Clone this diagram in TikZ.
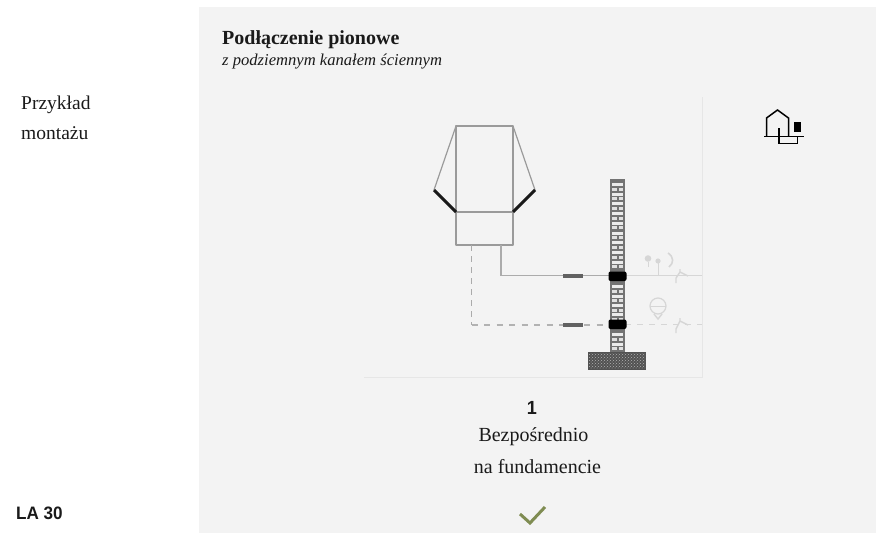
\documentclass[tikz,border=0pt]{standalone}
\usepackage{fontspec}
\setmainfont{Liberation Serif}
\newfontfamily\labelsans{Liberation Sans}
\usetikzlibrary{patterns}
\definecolor{panel}{HTML}{F3F3F3}
\definecolor{rulegray}{HTML}{E6E6E6}
\definecolor{devline}{HTML}{9A9A9A}
\definecolor{pipeline}{HTML}{ABABAB}
\definecolor{faint}{HTML}{D6D6D6}
\definecolor{okgreen}{HTML}{7F8C52}
\definecolor{ink}{HTML}{1A1A1A}
\tikzset{
  txt/.style={inner sep=0pt,anchor=base west,text=ink,font=\fontsize{19.5}{22}\selectfont},
  ctxt/.style={inner sep=0pt,anchor=base,text=ink,font=\fontsize{20}{22}\selectfont},
  boxline/.style={draw=devline,line width=1.5pt},
  pipe/.style={draw=pipeline,line width=1.2pt},
  pipedash/.style={draw=black!30,line width=2pt,dash pattern=on 6pt off 6.5pt},
  pipedashv/.style={draw=pipeline,line width=1.2pt,dash pattern=on 6pt off 5pt},
  faintline/.style={draw=faint,line width=1pt},
  iconline/.style={draw=black,line width=1.5pt},
}
\begin{document}
\begin{tikzpicture}[x=1pt,y=-1pt]
\useasboundingbox (0,0) rectangle (876,533);
\fill[white] (0,0) rectangle (876,533);
\fill[panel] (199,7) rectangle (876,533);
% texts
\node[txt] (tprzy) at (21,109) {Przykład};
\node[txt] (tmont) at (21,139) {montażu};
\node[inner sep=0pt,anchor=base west,text=ink,xscale=.95,font=\labelsans\bfseries\fontsize{18}{20}\selectfont] (tla) at (16,519) {LA 30};
\node[inner sep=0pt,anchor=base west,text=ink,font=\bfseries\fontsize{20}{22}\selectfont] (ttitle) at (222,44) {Podłączenie pionowe};
\node[inner sep=0pt,anchor=base west,text=ink,font=\itshape\fontsize{16.6}{18}\selectfont] (tsub) at (222,65) {z podziemnym kanałem ściennym};
\node[inner sep=0pt,anchor=base,text=ink,xscale=.95,font=\labelsans\bfseries\fontsize{19}{20}\selectfont] (tone) at (532,414) {1};
\node[ctxt] (tb) at (533.5,441) {Bezpośrednio};
\node[ctxt] (tf) at (537.5,473) {na fundamencie};
% check
\draw[okgreen,line width=3pt,line join=miter] (520,514) -- (530,523) -- (545,507);
% frame rules
\draw[rulegray,line width=.8pt] (702,97) -- (702,377) -- (364,377);
% device
\coordinate (devTL) at (456,126);
\coordinate (devTR) at (513,126);
\coordinate (devML) at (456,212);
\coordinate (devMR) at (513,212);
\coordinate (devBL) at (456,245);
\coordinate (devBR) at (513,245);
\coordinate (wingL) at (434,190);
\coordinate (wingR) at (535,190);
\draw[boxline,line join=round] (devTL) -- (devTR) -- (devBR) -- (devBL) -- cycle;
\draw[boxline] (devML) -- (devMR);
\draw[draw=devline,line width=1.2pt] (devTL) -- (wingL);
\draw[draw=devline,line width=1.2pt] (devTR) -- (wingR);
\draw[black!90,line width=3pt] (wingL) -- (devML);
\draw[black!90,line width=3pt] (wingR) -- (devMR);
% pipes
\coordinate (solidA) at (501,245);
\coordinate (solidB) at (501,275.5);
\coordinate (solidC) at (610,275.5);
\coordinate (solidD) at (625,275.5);
\coordinate (solidE) at (702,275.5);
\coordinate (dashA) at (471.5,245);
\coordinate (dashB) at (471.5,324.5);
\coordinate (dashC) at (610,324.5);
\coordinate (dashD) at (625,324.5);
\coordinate (dashE) at (702,324.5);
\draw[pipe] (solidA) -- (solidB) -- (solidC);
\draw[faintline] (solidD) -- (solidE);
\draw[pipedashv] (dashA) -- (dashB);
\draw[pipedash] (dashB) -- (dashC);
\draw[faintline,dash pattern=on 6pt off 6pt,line width=1.6pt] (dashD) -- (dashE);
% sleeves
\fill[black!62] (563,273.5) rectangle (583,277.5);
\fill[black!62] (563,322.5) rectangle (583,326.5);
% wall
\fill[black!55] (610,179) rectangle (625,352);
\foreach \yy in {183,192.7,202.4,212.1,221.8,231.5,241.2,250.9,260.6,285,294.7,304.4,313,333,342.7}{
  \fill[white!92!black] (612,\yy) rectangle (623,\yy+3);
  \fill[black!12] (612,\yy+4.6) rectangle (616.5,\yy+7.6);
  \fill[black!12] (618.5,\yy+4.6) rectangle (623,\yy+7.6);
}
\fill[black,rounded corners=2pt] (608.5,271.5) rectangle (626.5,281);
\fill[black,rounded corners=2pt] (608.5,319.5) rectangle (626.5,329);
% foundation
\fill[black!68] (588,351.5) rectangle (646,369.5);
\fill[pattern=crosshatch dots,pattern color=black!30] (589,353) rectangle (645,368);
% right faint symbols
\draw[faintline] (648,267) -- (648,262);
\draw[faintline] (658,275) -- (658,263);
\fill[faint] (648,258.5) circle (3.3);
\fill[faint] (658,261) circle (2.6);
\draw[faint,line width=1.6pt] (668,253) .. controls (674,257) and (674,263) .. (669,267);
\draw[faint,line width=1.4pt] (676,278) -- (680,272) -- (688,276) (680,272) -- (680,269) (676,278) -- (676,283);
\draw[faint,line width=1.2pt] (658,306) circle (8);
\draw[faintline] (650,306) -- (666,306);
\draw[faint,line width=1.4pt] (654,314) -- (658,319) -- (662,314);
\draw[faint,line width=1.4pt] (676,329) -- (680,321) -- (688,325) (680,321) -- (680,318) (676,329) -- (676,333);
% icon
\draw[iconline,line join=miter] (766.5,136) -- (766.5,118) -- (777.5,110) -- (788.5,118) -- (788.5,136);
\draw[iconline] (764,136.5) -- (804,136.5);
\draw[iconline] (779,128) -- (779,143.5) -- (797.5,143.5) -- (797.5,136.5);
\fill[black] (793.5,122) rectangle (800.5,132);
\end{tikzpicture}
\end{document}
